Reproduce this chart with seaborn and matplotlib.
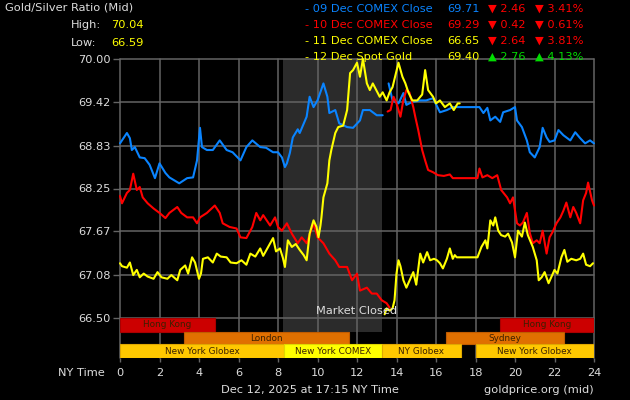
import matplotlib
matplotlib.use('Agg')
import matplotlib.pyplot as plt
import pandas as pd
import seaborn as sns

# --- data (hours NY time -> ratio) ---
blue_a_h = [0, 0.35, 0.5, 0.6, 0.75, 1.0, 1.25, 1.5, 1.77, 2.0, 2.3, 2.5, 3.0, 3.4, 3.7, 3.9, 4.05, 4.15,
            4.4, 4.7, 5.05, 5.4, 5.7, 6.1, 6.4, 6.7, 7.1, 7.4, 7.75, 8.0, 8.2, 8.35, 8.45, 8.6, 8.75, 9.0,
            9.1, 9.45, 9.6, 9.8, 10.0, 10.3, 10.5, 10.6, 10.9, 11.1, 11.5, 11.8, 12.15, 12.3, 12.65, 13.0, 13.3]
blue_a_v = [68.86, 69.0, 68.93, 68.77, 68.81, 68.67, 68.66, 68.57, 68.39, 68.59, 68.46, 68.40, 68.32, 68.39,
            68.40, 68.63, 69.07, 68.81, 68.77, 68.77, 68.90, 68.77, 68.74, 68.63, 68.81, 68.90, 68.81, 68.80,
            68.74, 68.74, 68.67, 68.54, 68.59, 68.73, 68.94, 69.05, 69.0, 69.22, 69.49, 69.35, 69.44, 69.67,
            69.49, 69.27, 69.31, 69.13, 69.08, 69.07, 69.17, 69.31, 69.31, 69.24, 69.24]
blue_b_h = [13.6, 13.8, 14.1, 14.35, 14.5, 14.8, 15.2, 15.5, 15.85, 16.2, 16.55, 16.85, 17.2, 18.2, 18.4,
            18.6, 18.75, 19.0, 19.25, 19.4, 19.75, 20.0, 20.1, 20.35, 20.6, 20.75, 21.0, 21.25, 21.4, 21.6,
            21.75, 22.0, 22.2, 22.45, 22.8, 23.05, 23.3, 23.55, 23.8, 24.0]
blue_b_v = [69.67, 69.44, 69.40, 69.54, 69.38, 69.42, 69.44, 69.44, 69.47, 69.28, 69.31, 69.35, 69.35, 69.35,
            69.27, 69.34, 69.17, 69.22, 69.15, 69.28, 69.31, 69.35, 69.17, 69.08, 68.90, 68.74, 68.67, 68.81,
            69.07, 68.94, 68.88, 68.90, 69.04, 68.97, 68.90, 69.01, 68.93, 68.86, 68.90, 68.86]

red_a_h = [0, 0.1, 0.35, 0.5, 0.67, 0.85, 1.0, 1.15, 1.4, 1.7, 2.0, 2.3, 2.5, 2.9, 3.1, 3.4, 3.7, 3.9, 4.05,
           4.4, 4.8, 5.05, 5.2, 5.55, 5.9, 6.1, 6.4, 6.7, 6.9, 7.1, 7.25, 7.6, 7.85, 8.0, 8.2, 8.45, 8.7, 9.0,
           9.2, 9.45, 9.8, 10.0, 10.3, 10.6, 10.9, 11.1, 11.5, 11.75, 12.0, 12.15, 12.5, 12.75, 13.0, 13.25,
           13.5, 13.65]
red_a_v = [68.15, 68.05, 68.19, 68.23, 68.45, 68.23, 68.27, 68.13, 68.05, 67.98, 67.92, 67.85, 67.92, 68.0,
           67.92, 67.86, 67.86, 67.78, 67.86, 67.92, 68.02, 67.92, 67.78, 67.73, 67.71, 67.59, 67.58, 67.73,
           67.92, 67.82, 67.89, 67.75, 67.86, 67.73, 67.68, 67.78, 67.64, 67.51, 67.59, 67.51, 67.78, 67.59,
           67.51, 67.37, 67.28, 67.19, 67.19, 67.01, 67.10, 66.87, 66.91, 66.83, 66.83, 66.74, 66.70, 66.64]
red_b_h = [13.55, 13.7, 13.85, 14.0, 14.2, 14.35, 14.5, 14.65, 14.85, 14.95, 15.1, 15.3, 15.45, 15.6, 15.85,
           16.1, 16.4, 16.7, 16.85, 17.05, 18.1, 18.2, 18.35, 18.6, 18.85, 19.1, 19.3, 19.6, 19.75, 19.9,
           20.1, 20.25, 20.4, 20.6, 20.75, 20.9, 21.1, 21.25, 21.4, 21.6, 21.75, 21.9, 22.1, 22.3, 22.45,
           22.6, 22.8, 22.95, 23.1, 23.3, 23.45, 23.6, 23.7, 23.9, 24.0]
red_b_v = [69.29, 69.31, 69.49, 69.40, 69.22, 69.45, 69.58, 69.55, 69.35, 69.22, 69.04, 68.77, 68.63, 68.50,
           68.47, 68.43, 68.42, 68.44, 68.39, 68.39, 68.39, 68.52, 68.40, 68.43, 68.39, 68.43, 68.23, 68.13,
           68.05, 68.13, 67.78, 67.75, 67.79, 67.92, 67.65, 67.51, 67.55, 67.51, 67.68, 67.37, 67.59, 67.66,
           67.78, 67.86, 67.95, 68.06, 67.86, 68.0, 67.92, 67.78, 68.09, 68.19, 68.33, 68.09, 68.02]

yel_a_h = [0, 0.1, 0.35, 0.5, 0.67, 0.85, 1.0, 1.2, 1.4, 1.7, 1.9, 2.1, 2.4, 2.6, 2.9, 3.05, 3.3, 3.45, 3.65,
           3.8, 4.0, 4.1, 4.2, 4.45, 4.7, 4.9, 5.1, 5.4, 5.6, 5.9, 6.15, 6.4, 6.6, 6.85, 7.1, 7.25, 7.5, 7.75,
           7.9, 8.1, 8.25, 8.35, 8.5, 8.7, 8.9, 9.1, 9.3, 9.45, 9.6, 9.8, 9.95, 10.05, 10.15, 10.2, 10.3,
           10.5, 10.6, 10.7, 10.9, 11.05, 11.3, 11.5, 11.65, 11.8, 12.0, 12.15, 12.3, 12.5, 12.65, 12.8,
           13.15, 13.3, 13.5, 13.65, 13.8, 14.1, 14.3, 14.45, 14.6, 14.8, 15.05, 15.3, 15.45, 15.6, 15.85,
           16.0, 16.2, 16.45, 16.7, 16.9, 17.1, 17.2]
yel_a_v = [67.24, 67.20, 67.18, 67.25, 67.08, 67.15, 67.05, 67.10, 67.06, 67.03, 67.12, 67.05, 67.03, 67.08,
           67.01, 67.15, 67.21, 67.10, 67.32, 67.25, 67.03, 67.10, 67.30, 67.32, 67.25, 67.37, 67.33, 67.32,
           67.25, 67.24, 67.28, 67.22, 67.37, 67.33, 67.44, 67.34, 67.46, 67.58, 67.40, 67.44, 67.31, 67.19,
           67.55, 67.46, 67.50, 67.42, 67.35, 67.28, 67.64, 67.82, 67.73, 67.59, 67.75, 67.86, 68.13, 68.32,
           68.63, 68.77, 69.0, 69.08, 69.10, 69.31, 69.81, 69.85, 69.95, 69.76, 70.0, 69.67, 69.58, 69.67,
           69.49, 69.55, 69.44, 69.55, 69.62, 69.95, 69.76, 69.67, 69.55, 69.44, 69.44, 69.52, 69.85, 69.58,
           69.49, 69.40, 69.44, 69.35, 69.40, 69.31, 69.40, 69.40]
yel_b_h = [13.4, 13.5, 13.65, 13.8, 13.9, 14.0, 14.1, 14.2, 14.35, 14.5, 14.65, 14.85, 15.0, 15.2, 15.35,
           15.55, 15.7, 15.9, 16.05, 16.2, 16.35, 16.55, 16.7, 16.85, 16.95, 17.05, 18.1, 18.3, 18.5, 18.6,
           18.75, 18.9, 19.0, 19.15, 19.3, 19.5, 19.65, 19.85, 20.0, 20.15, 20.35, 20.5, 20.65, 20.9, 21.1,
           21.2, 21.35, 21.5, 21.7, 21.85, 22.0, 22.15, 22.35, 22.5, 22.65, 22.85, 23.1, 23.3, 23.45, 23.6,
           23.8, 23.95]
yel_b_v = [66.55, 66.63, 66.60, 66.63, 66.74, 67.10, 67.28, 67.20, 67.01, 66.91, 67.0, 67.12, 66.95, 67.37,
           67.25, 67.39, 67.28, 67.30, 67.28, 67.24, 67.17, 67.30, 67.44, 67.30, 67.35, 67.32, 67.32, 67.46,
           67.55, 67.44, 67.82, 67.75, 67.86, 67.68, 67.62, 67.60, 67.64, 67.52, 67.32, 67.68, 67.60, 67.79,
           67.62, 67.46, 67.28, 67.01, 67.05, 67.12, 66.97, 67.06, 67.15, 67.10, 67.32, 67.42, 67.26, 67.30,
           67.28, 67.30, 67.37, 67.22, 67.20, 67.24]

legend_names = ['09 Dec COMEX Close', '10 Dec COMEX Close', '11 Dec COMEX Close', '12 Dec Spot Gold']
legend_values = ['69.71', '69.29', '66.65', '69.40']
legend_changes = ['2.46', '0.42', '2.64', '2.76']
legend_pcts = ['3.41%', '0.61%', '3.81%', '4.13%']
legend_up = [False, False, False, True]

yticks = [66.50, 67.08, 67.67, 68.25, 68.83, 69.42, 70.00]
xticks = list(range(0, 25, 2))

sess_names = ['Hong Kong', 'Hong Kong', 'London', 'Sydney', 'New York Globex', 'New York COMEX',
              'NY Globex', 'New York Globex']
sess_start = [0, 19.25, 3.25, 16.5, 0, 8.3, 13.25, 18.0]
sess_end = [4.8, 24, 11.6, 22.5, 8.3, 13.25, 17.27, 24]
sess_row = [0, 0, 1, 1, 2, 2, 2, 2]
closed_start, closed_end = 8.25, 13.27

# --- styling ---
BLUE, RED, YEL, GREEN = '#0a84ff', '#ff0000', '#ffff00', '#00dd00'
TXT = '#dddddd'
GRID = '#646464'

sns.set_theme(style='dark', rc={'axes.facecolor': 'black', 'figure.facecolor': 'black'})
plt.rcParams['font.family'] = ['DejaVu Sans']

W, H = 630, 400
fig = plt.figure(figsize=(6.3, 4), dpi=100)
ax_bottom, ax_top = 358, 59
ax = fig.add_axes([120 / W, 1 - ax_bottom / H, 474 / W, (ax_bottom - ax_top) / H])
ax.set_facecolor('black')

ppu = (318 - 59) / 3.5  # pixels per ratio unit
ymin = 66.5 - (ax_bottom - 318) / ppu
ax.set_xlim(0, 24)
ax.set_ylim(ymin, 70.0)

# market closed shading (down to bottom of first session row)
row_h = [(332 - 318) / ppu, (344.5 - 332) / ppu, (ax_bottom - 344.5) / ppu]
row_top = [66.5, 66.5 - row_h[0], 66.5 - row_h[0] - row_h[1]]
shade_bottom = row_top[1]
ax.fill_between([closed_start, closed_end], shade_bottom, 70.0, color='#2b2b2b', zorder=0, lw=0)
ax.text((closed_start + closed_end) / 2 + 1.2, 66.5 + 7 / ppu, 'Market Closed', color=TXT,
        fontsize=8.2, ha='center', va='center', zorder=6)

# grid
for y in yticks:
    ax.axhline(y, color=GRID, lw=1.1, zorder=1)
for x in xticks:
    ax.axvline(x, color=GRID, lw=1.1, zorder=1)

# session bars
sess_colors = {'Hong Kong': '#cc0000', 'London': '#e07000', 'Sydney': '#e07000',
               'New York Globex': '#ffc800', 'NY Globex': '#ffc800', 'New York COMEX': '#ffff00'}
sess_edges = {'Hong Kong': '#aa0000', 'London': '#c05c00', 'Sydney': '#c05c00',
              'New York Globex': '#e0a800', 'NY Globex': '#e0a800', 'New York COMEX': '#e0d800'}
for name, s, e, r in zip(sess_names, sess_start, sess_end, sess_row):
    yc = row_top[r] - row_h[r] / 2
    ax.barh(yc, e - s, left=s, height=row_h[r], color=sess_colors[name],
            edgecolor=sess_edges[name], lw=0.8, zorder=3)
    ax.text((s + e) / 2, yc, name, fontsize=6.4, color='#3a2000', ha='center', va='center', zorder=4)

# lines
segments = [(blue_a_h, blue_a_v, BLUE), (blue_b_h, blue_b_v, BLUE),
            (red_a_h, red_a_v, RED), (red_b_h, red_b_v, RED),
            (yel_b_h, yel_b_v, YEL), (yel_a_h, yel_a_v, YEL)]
for hrs, vals, col in segments:
    df = pd.DataFrame({'hour': hrs, 'ratio': vals})
    sns.lineplot(data=df, x='hour', y='ratio', ax=ax, color=col, lw=1.5, sort=False, zorder=5)
for ln in ax.lines:
    ln.set_clip_on(False)

ax.set_xlabel('')
ax.set_ylabel('')
ax.set_yticks(yticks)
ax.set_yticklabels([f'{y:.2f}' for y in yticks])
ax.set_xticks(xticks)
ax.tick_params(axis='y', colors=GRID, labelcolor=TXT, labelsize=8.2, length=5, width=1, pad=1.5, left=True)
ax.tick_params(axis='x', colors=GRID, labelcolor=TXT, labelsize=8.2, length=3, width=1, pad=4, bottom=True)
ax.grid(False)
for sp in ax.spines.values():
    sp.set_visible(False)


def ftxt(x, y, s, **kw):
    kw.setdefault('color', TXT)
    kw.setdefault('fontsize', 8.2)
    kw.setdefault('va', 'center')
    fig.text(x / W, 1 - y / H, s, **kw)


ftxt(5, 8, 'Gold/Silver Ratio (Mid)')
ftxt(71, 25, 'High:')
ftxt(111, 25, '70.04', color=YEL)
ftxt(71, 43, 'Low:')
ftxt(111, 43, '66.59', color=YEL)

line_cols = [BLUE, RED, YEL, YEL]
for i, (nm, val, ch, pc, up) in enumerate(zip(legend_names, legend_values, legend_changes,
                                              legend_pcts, legend_up)):
    y = 9 + 16 * i
    ccol = GREEN if up else RED
    arrow = '\u25b2' if up else '\u25bc'
    ftxt(305, y, '- ' + nm, color=line_cols[i])
    ftxt(447, y, val, color=line_cols[i])
    ftxt(488, y, f'{arrow} {ch}', color=ccol)
    ftxt(535, y, f'{arrow} {pc}', color=ccol)

ftxt(105, 373, 'NY Time', ha='right')
ftxt(310, 390, 'Dec 12, 2025 at 17:15 NY Time', ha='center')
ftxt(594, 390, 'goldprice.org (mid)', ha='right')

fig.savefig('out.png', dpi=100, facecolor='black')
